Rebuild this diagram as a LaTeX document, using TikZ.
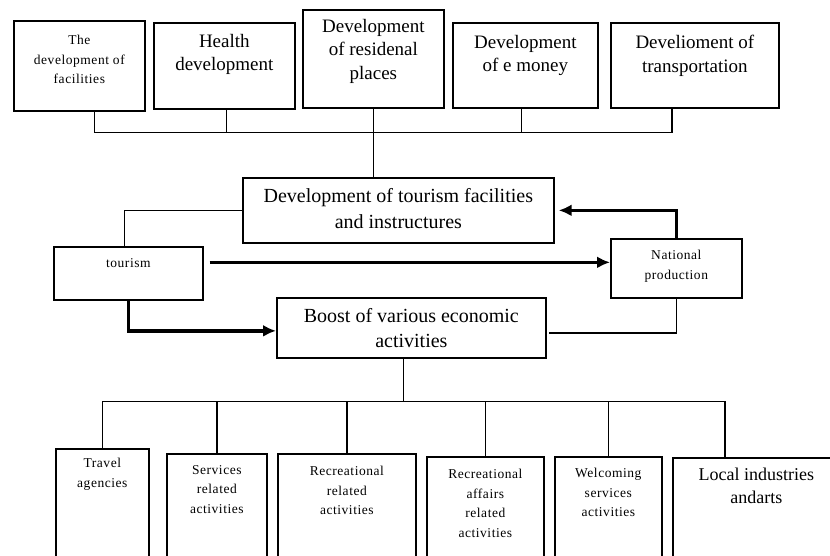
\documentclass[tikz,border=0pt]{standalone}
\usepackage{fontspec}
\setmainfont{Liberation Serif}
\newfontfamily\widefont[LetterSpace=4]{Liberation Serif}
\usetikzlibrary{arrows.meta}
\newcommand\boxat[7]{\node(#1)[box,minimum width=#4,minimum height=#5,label={[#6]north:{#7}}] at (#2,#3) {};}

\tikzset{
  box/.style={draw,line width=1.7pt,anchor=north west,inner sep=0pt},
  bigtext/.style={anchor=north,align=center,inner sep=0pt,font=\fontsize{19}{23.5}\selectfont},
  widetext/.style={anchor=north,align=center,inner sep=0pt,font=\fontsize{20}{26}\selectfont},
  smalltext/.style={anchor=north,align=center,inner sep=0pt,font=\widefont\fontsize{13.5}{19.5}\selectfont},
  link/.style={line width=1.5pt},
  flow/.style={line width=3.5pt,-{Latex[length=13pt,width=12pt]}}
}

\begin{document}
\begin{tikzpicture}[x=1pt,y=-1pt]
    \useasboundingbox (0,0) rectangle (830,556);
    \clip (0,0) rectangle (830,556);
    % top row
    \boxat{faci}{13}{20}{131pt}{90pt}{smalltext,yshift=-15pt}{The\\development of\\facilities}
    \boxat{heal}{153}{22}{141pt}{86pt}{bigtext,yshift=-12pt}{Health\\development}
    \boxat{resi}{302}{9}{141pt}{98pt}{bigtext,yshift=-10pt}{Development\\of residenal\\places}
    \boxat{emon}{452}{22}{145pt}{85pt}{bigtext,yshift=-13pt}{Development\\of e money}
    \boxat{tran}{610}{22}{168pt}{85pt}{bigtext,yshift=-13pt}{Develioment of\\transportation}
    % middle
    \boxat{dev}{242}{177}{311pt}{65pt}{widetext,yshift=-11pt}{Development of tourism facilities\\and instructures}
    \boxat{tour}{53}{246}{149pt}{53pt}{smalltext,yshift=-12pt}{tourism}
    \boxat{nat}{610}{238}{131pt}{59pt}{smalltext,yshift=-12pt}{National\\production}
    \boxat{boost}{276}{297}{269pt}{60pt}{widetext,yshift=-11pt,font=\fontsize{20}{25}\selectfont}{Boost of various economic\\activities}
    % bottom row
    \boxat{trav}{55}{448}{93pt}{112pt}{smalltext,yshift=-10pt}{Travel\\agencies}
    \boxat{serv}{166}{453}{100pt}{107pt}{smalltext,yshift=-12pt}{Services\\related\\activities}
    \boxat{recr}{277}{453}{138pt}{107pt}{smalltext,yshift=-13pt}{Recreational\\related\\activities}
    \boxat{affr}{426}{456}{117pt}{104pt}{smalltext,yshift=-13pt}{Recreational\\affairs\\related\\activities}
    \boxat{welc}{554}{456}{107pt}{104pt}{smalltext,yshift=-12pt}{Welcoming\\services\\activities}
    \boxat{local}{672}{457}{185pt}{103pt}{bigtext,xshift=-9pt,yshift=-10.7pt,font=\fontsize{18}{23}\selectfont}{Local industries\\andarts}

    % top bus
    \path (resi.south) ++(0,24) coordinate (tophub);
    \draw[link] (resi.south) -- (resi.south |- dev.north);
    \draw[link] ([xshift=15pt]faci.south) |- (tophub);
    \draw[link] ([xshift=2pt]heal.south) |- (tophub);
    \draw[link] ([xshift=-4pt]emon.south) |- (tophub);
    \draw[link] ([xshift=-23pt]tran.south) |- (tophub);

    % loop round tourism
    \draw[link] (dev.west) -| ([xshift=-4pt]tour.north);
    \draw[flow] ([shift={(6pt,11pt)}]tour.east) coordinate (t1) -- (t1 -| nat.west);
    \draw[flow] (nat.north) |- ([xshift=4pt]dev.east);
    \draw[link] (nat.south) |- ([shift={(2pt,-5pt)}]boost.east);
    \draw[flow] (tour.south) |- ([yshift=-3pt]boost.west);

    % bottom bus
    \draw[link] ([xshift=-8pt]boost.south) -- ++(0,43) coordinate (hub);
    \foreach \b in {trav,serv,recr,affr,welc}
        \draw[link] (hub) -| (\b.north);
    \draw[link] (hub) -| ([xshift=53pt]local.north west);
\end{tikzpicture}
\end{document}
